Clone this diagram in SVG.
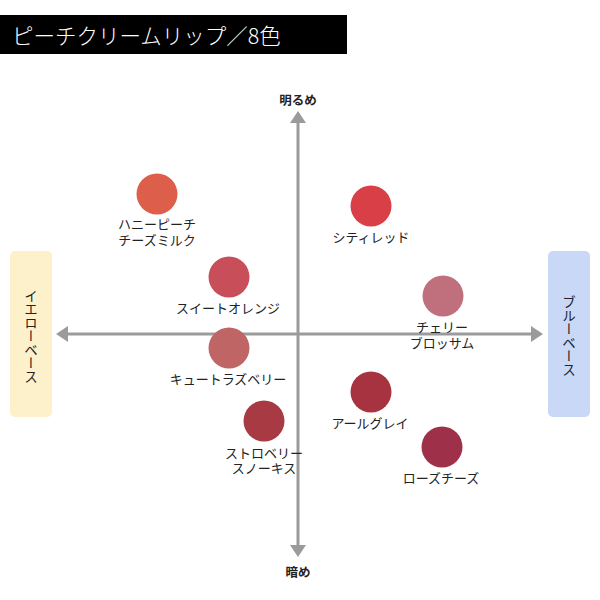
<svg xmlns="http://www.w3.org/2000/svg" width="600" height="600" viewBox="0 0 600 600">
<style>
text{font-family:"Noto Sans CJK JP","Noto Sans",sans-serif;fill:#222}
.lbl{font-size:13px;text-anchor:middle}
.ax{font-size:12.5px;font-weight:bold;text-anchor:middle}
.vt{font-size:13.5px;writing-mode:vertical-rl;text-anchor:middle}
.axis{stroke:#9b9b9b;stroke-width:3;fill:none}
.head{fill:#9b9b9b}
</style>
<rect width="600" height="600" fill="#fff"/>
<g id="title">
<rect x="0" y="15" width="347" height="39" fill="#000"/>
<text x="12" y="44" style="font-size:21.5px;fill:#fff;font-weight:300">ピーチクリームリップ／8色</text>
</g>
<g id="connectors">
<line class="axis" x1="298" y1="122" x2="298" y2="546"/>
<polygon class="head" points="298,111 290,123 306,123"/>
<polygon class="head" points="298,557 290,545 306,545"/>
<line class="axis" x1="67" y1="334" x2="533" y2="334"/>
<polygon class="head" points="56,334 68,326 68,342"/>
<polygon class="head" points="543,334 531,326 531,342"/>
</g>
<g id="axis-top"><text class="ax" x="298" y="105">明るめ</text></g>
<g id="axis-bottom"><text class="ax" x="298" y="577">暗め</text></g>
<g id="yellow-base">
<rect x="10" y="251" width="42" height="166" rx="5" fill="#fdf1cc"/>
<text class="vt" x="31" y="336">イエローベース</text>
</g>
<g id="blue-base">
<rect x="548" y="251" width="42" height="166" rx="5" fill="#c8d8f6"/>
<text class="vt" x="569" y="336">ブルーベース</text>
</g>
<g id="honey-peach">
<circle cx="157" cy="194" r="20.5" fill="#dc5e4b"/>
<text class="lbl" x="157" y="229">ハニーピーチ</text>
<text class="lbl" x="157" y="245">チーズミルク</text>
</g>
<g id="city-red">
<circle cx="371" cy="206" r="20.5" fill="#d93f47"/>
<text class="lbl" x="371" y="242">シティレッド</text>
</g>
<g id="sweet-orange">
<circle cx="229" cy="277" r="20.5" fill="#c84f5a"/>
<text class="lbl" x="228" y="313">スイートオレンジ</text>
</g>
<g id="cherry-blossom">
<circle cx="443" cy="296" r="20.5" fill="#c0707c"/>
<text class="lbl" x="442" y="332">チェリー</text>
<text class="lbl" x="442" y="348">ブロッサム</text>
</g>
<g id="cute-raspberry">
<circle cx="229" cy="348" r="20.5" fill="#bf6565"/>
<text class="lbl" x="228" y="384">キュートラズベリー</text>
</g>
<g id="earl-grey">
<circle cx="371" cy="392" r="20.5" fill="#a6333f"/>
<text class="lbl" x="370" y="428">アールグレイ</text>
</g>
<g id="strawberry">
<circle cx="264" cy="421" r="20.5" fill="#a83a43"/>
<text class="lbl" x="264" y="458">ストロベリー</text>
<text class="lbl" x="264" y="473">スノーキス</text>
</g>
<g id="rose-cheese">
<circle cx="442" cy="447" r="20.5" fill="#9e3149"/>
<text class="lbl" x="441" y="483">ローズチーズ</text>
</g>
</svg>
